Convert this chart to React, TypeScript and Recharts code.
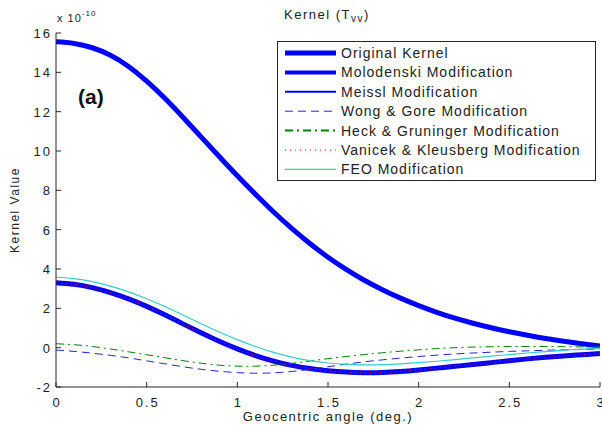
import React from "react";
import { LineChart, Line, XAxis, YAxis, Legend } from "recharts";

const angles = [0, 0.1, 0.2, 0.3, 0.4, 0.5, 0.6, 0.7, 0.8, 0.9, 1.0, 1.1, 1.2, 1.3, 1.4, 1.5, 1.6, 1.7, 1.8, 1.9, 2.0, 2.1, 2.2, 2.3, 2.4, 2.5, 2.6, 2.7, 2.8, 2.9, 3.0];

const originalKernel = [15.55, 15.47, 15.25, 14.87, 14.3, 13.55, 12.68, 11.72, 10.72, 9.72, 8.74, 7.8, 6.9, 6.07, 5.3, 4.6, 3.98, 3.43, 2.95, 2.52, 2.14, 1.8, 1.5, 1.24, 1.01, 0.81, 0.63, 0.47, 0.33, 0.2, 0.08];
const molodenski = [3.3, 3.22, 3.05, 2.8, 2.48, 2.1, 1.67, 1.21, 0.76, 0.33, -0.06, -0.4, -0.68, -0.9, -1.06, -1.17, -1.24, -1.27, -1.26, -1.21, -1.13, -1.04, -0.95, -0.86, -0.76, -0.66, -0.57, -0.49, -0.42, -0.36, -0.3];
const meissl = [3.3, 3.22, 3.05, 2.8, 2.48, 2.1, 1.67, 1.21, 0.76, 0.33, -0.06, -0.4, -0.68, -0.9, -1.06, -1.17, -1.24, -1.27, -1.26, -1.21, -1.13, -1.04, -0.95, -0.86, -0.76, -0.66, -0.57, -0.49, -0.42, -0.36, -0.3];
const wongGore = [-0.12, -0.19, -0.28, -0.39, -0.52, -0.67, -0.82, -0.97, -1.1, -1.2, -1.27, -1.3, -1.28, -1.21, -1.1, -0.97, -0.84, -0.72, -0.62, -0.53, -0.45, -0.38, -0.32, -0.27, -0.23, -0.19, -0.16, -0.13, -0.11, -0.09, -0.07];
const heckGruninger = [0.2, 0.15, 0.06, -0.07, -0.21, -0.36, -0.51, -0.66, -0.79, -0.89, -0.94, -0.94, -0.89, -0.8, -0.68, -0.56, -0.45, -0.35, -0.26, -0.18, -0.11, -0.05, 0.0, 0.03, 0.05, 0.06, 0.06, 0.06, 0.05, 0.04, 0.03];
const vanicekKleusberg = [3.3, 3.22, 3.05, 2.8, 2.48, 2.1, 1.67, 1.21, 0.76, 0.33, -0.06, -0.4, -0.68, -0.9, -1.06, -1.17, -1.24, -1.27, -1.26, -1.21, -1.13, -1.04, -0.95, -0.86, -0.76, -0.66, -0.57, -0.49, -0.42, -0.36, -0.3];
const feo = [3.58, 3.51, 3.36, 3.13, 2.84, 2.49, 2.09, 1.66, 1.22, 0.8, 0.41, 0.06, -0.24, -0.48, -0.66, -0.78, -0.85, -0.87, -0.86, -0.82, -0.76, -0.69, -0.61, -0.52, -0.43, -0.35, -0.27, -0.2, -0.13, -0.07, -0.02];

const xTicks = [0, 0.5, 1, 1.5, 2, 2.5, 3];
const yTicks = [-2, 0, 2, 4, 6, 8, 10, 12, 14, 16];

const seriesNames = [
  "Original Kernel",
  "Molodenski Modification",
  "Meissl Modification",
  "Wong & Gore Modification",
  "Heck & Gruninger Modification",
  "Vanicek & Kleusberg Modification",
  "FEO Modification",
];

const data = angles.map((a, i) => ({
  a,
  s0: originalKernel[i],
  s1: molodenski[i],
  s2: meissl[i],
  s3: wongGore[i],
  s4: heckGruninger[i],
  s5: vanicekKleusberg[i],
  s6: feo[i],
}));

const styles = [
  { key: "s0", color: "#0000FF", width: 5, dash: undefined, legendWidth: 5 },
  { key: "s1", color: "#0000FF", width: 5, dash: undefined, legendWidth: 4 },
  { key: "s2", color: "#0000FF", width: 1.5, dash: undefined, legendWidth: 2 },
  { key: "s3", color: "#2222FF", width: 1, dash: "8 5", legendWidth: 1 },
  { key: "s4", color: "#008000", width: 1, dash: "8 4 2 4", legendWidth: 2 },
  { key: "s5", color: "#FF0000", width: 1, dash: "1 4", legendWidth: 1 },
  { key: "s6", color: "#33CCCC", width: 1.2, dash: undefined, legendWidth: 1.2 },
];

const FONT = "'Liberation Sans', Arial, Helvetica, sans-serif";
const AXIS = "#262626";

const BottomTick = (props: any) => {
  const { x, y, payload } = props;
  return (
    <g>
      <line x1={x} x2={x} y1={y} y2={y - 5} stroke={AXIS} />
      <text x={x + 1} y={y + 20} textAnchor="middle" fontSize={13} letterSpacing={2} fontFamily={FONT} fill="#222">
        {String(payload.value)}
      </text>
    </g>
  );
};
const TopTick = (props: any) => {
  const { x, y } = props;
  return <line x1={x} x2={x} y1={y} y2={y + 5} stroke={AXIS} />;
};
const LeftTick = (props: any) => {
  const { x, y, payload } = props;
  return (
    <g>
      <line x1={x} x2={x + 5} y1={y} y2={y} stroke={AXIS} />
      <text x={x - 4} y={y + 5} textAnchor="end" fontSize={13} letterSpacing={2} fontFamily={FONT} fill="#222">
        {String(payload.value)}
      </text>
    </g>
  );
};
const RightTick = (props: any) => {
  const { x, y } = props;
  return <line x1={x} x2={x - 5} y1={y} y2={y} stroke={AXIS} />;
};

const LegendBox = () => (
  <svg width={320} height={141} style={{ display: "block" }}>
    <rect x={0.5} y={0.5} width={318} height={139} fill="#fff" stroke={AXIS} strokeWidth={1} />
    {styles.map((s, i) => {
      const cy = 12 + i * 19.4;
      return (
        <g key={s.key}>
          <line
            x1={8}
            x2={59}
            y1={cy}
            y2={cy}
            stroke={s.color}
            strokeWidth={s.legendWidth}
            strokeDasharray={s.dash}
          />
          <text x={64} y={cy + 5} fontSize={14} letterSpacing={1} fontFamily={FONT} fill="#222">
            {seriesNames[i]}
          </text>
        </g>
      );
    })}
  </svg>
);

export default function App() {
  return (
    <div style={{ position: "absolute", left: 0, top: 0, width: 602, height: 426, background: "#fff" }}>
      <LineChart width={602} height={426} data={data} margin={{ top: 33, right: 2, bottom: 0, left: 0 }}>
        <XAxis
          dataKey="a"
          type="number"
          domain={[0, 3]}
          ticks={xTicks}
          allowDataOverflow
          height={39}
          tickSize={0}
          tickMargin={0}
          tickLine={false}
          tick={<BottomTick />}
          stroke={AXIS}
          interval={0}
        />
        <XAxis
          xAxisId="top"
          orientation="top"
          dataKey="a"
          type="number"
          domain={[0, 3]}
          ticks={xTicks}
          height={0}
          tickSize={0}
          tickMargin={0}
          tickLine={false}
          tick={<TopTick />}
          stroke={AXIS}
          interval={0}
        />
        <YAxis
          type="number"
          domain={[-2, 16]}
          ticks={yTicks}
          allowDataOverflow
          width={56}
          tickSize={0}
          tickMargin={0}
          tickLine={false}
          tick={<LeftTick />}
          stroke={AXIS}
          interval={0}
        />
        <YAxis
          yAxisId="right"
          orientation="right"
          type="number"
          domain={[-2, 16]}
          ticks={yTicks}
          width={0}
          tickSize={0}
          tickMargin={0}
          tickLine={false}
          tick={<RightTick />}
          stroke={AXIS}
          interval={0}
        />
        {styles.map((s, i) => (
          <Line
            key={s.key}
            dataKey={s.key}
            name={seriesNames[i]}
            type="natural"
            stroke={s.color}
            strokeWidth={s.width}
            strokeDasharray={s.dash}
            dot={false}
            activeDot={false}
            isAnimationActive={false}
          />
        ))}
        <Legend
          layout="vertical"
          align="center"
          verticalAlign="middle"
          wrapperStyle={{ position: "absolute", left: 277, top: 41, width: 320, height: 141 }}
          content={() => <LegendBox />}
        />
      </LineChart>
      <svg
        width={602}
        height={426}
        style={{ position: "absolute", left: 0, top: 0, pointerEvents: "none" }}
      >
        <text x={284} y={19} fontSize={13} letterSpacing={1.5} fontFamily={FONT} fill="#222">
          Kernel (T
          <tspan fontSize={10} dy={3}>vv</tspan>
          <tspan dy={-3}>)</tspan>
        </text>
        <text x={57} y={22} fontSize={11} letterSpacing={1} fontFamily={FONT} fill="#222">
          x 10
          <tspan fontSize={8} dy={-6}>-10</tspan>
        </text>
        <text x={78} y={104} fontSize={21} fontWeight="bold" fontFamily={FONT} fill="#111">
          (a)
        </text>
        <text
          x={0}
          y={0}
          transform="translate(19,210) rotate(-90)"
          textAnchor="middle"
          fontSize={12}
          letterSpacing={1.5}
          fontFamily={FONT}
          fill="#222"
        >
          Kernel Value
        </text>
        <text x={328} y={421} textAnchor="middle" fontSize={13} letterSpacing={1.5} fontFamily={FONT} fill="#222">
          Geocentric angle (deg.)
        </text>
      </svg>
    </div>
  );
}
